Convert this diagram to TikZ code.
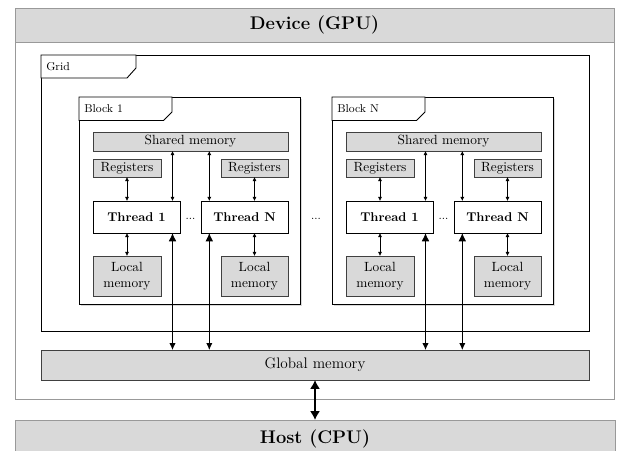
\documentclass[tikz,border=0pt]{standalone}
\usetikzlibrary{arrows.meta,shadows,calc}

% 1 unit = one pixel of the final drawing
\def\u{0.7874pt}
\tikzset{
  px/.style={x=\u,y=-\u},
  sz/.style 2 args={minimum width=#1*\u,minimum height=#2*\u},
  base/.style={inner sep=0pt,outer sep=0pt,anchor=north west,align=center},
  devframe/.style={base,draw=black!40,line width=0.7pt,fill=white},
  devhead/.style={base,draw=black!40,line width=0.7pt,fill=black!15},
  gridframe/.style={base,draw=black,line width=0.7pt,fill=white},
  blockframe/.style={base,draw=black,line width=0.6pt,fill=white,
    drop shadow={shadow xshift=1.3pt,shadow yshift=-1.3pt,opacity=0.15,fill=black}},
  tabline/.style={draw=black,line width=0.6pt,fill=white},
  tablabel/.style={anchor=west,inner sep=0pt,font=\small},
  cell/.style={base,draw=black!75,line width=0.5pt,fill=black!15,font=\fontsize{10.5}{12.6}\selectfont},
  thread/.style={base,draw=black,line width=0.5pt,fill=white,font=\normalsize\bfseries},
  gap/.style={inner sep=0pt,font=\small},
  link/.style={{Latex[length=3.3pt,width=3.3pt]}-{Latex[length=3.3pt,width=3.3pt]},line width=0.5pt},
  gmem/.style={{Latex[length=6.5pt,width=6pt]}-{Latex[length=5.5pt,width=5pt]},line width=0.7pt},
  hostlink/.style={{Latex[length=7pt,width=8pt]}-{Latex[length=7pt,width=8pt]},line width=1.5pt},
}

% one thread block: #1 name prefix, #2 horizontal offset, #3 title
\newcommand\gpublock[3]{%
  \begin{scope}[xshift=#2*\u]
    \node[blockframe,sz={221}{207}] (#1blk) at (79,97) {};
    \draw[tabline] (79,97) -- (172,97) -- (172,112) -- (163.5,120.5) -- (79,120.5) -- cycle;
    \node[tablabel] (#1lbl) at (84,109) {#3};
    \node[cell,sz={195}{19}] (#1shm) at (93,132) {Shared memory};
    \node[cell,sz={68}{18}] (#1regA) at (93,159) {Registers};
    \node[cell,sz={67}{18}] (#1regB) at (221,159) {Registers};
    \node[thread,sz={87}{32}] (#1thA) at (93,201) {Thread 1};
    \node[thread,sz={87}{32}] (#1thB) at (201,201) {Thread N};
    \node[cell,sz={68}{40}] (#1locA) at (93,256) {Local\\memory};
    \node[cell,sz={67}{40}] (#1locB) at (221,256) {Local\\memory};
    \node[gap] (#1dots) at (190.5,219) {...};
    \coordinate (#1pA) at ([xshift=-7.5*\u]#1thA.north east);
    \coordinate (#1pB) at ([xshift=8.3*\u]#1thB.north west);
    \coordinate (#1qA) at ([xshift=-7.5*\u]#1thA.south east);
    \coordinate (#1qB) at ([xshift=8.3*\u]#1thB.south west);
    \draw[link] (#1regA.south) -- (#1regA.south |- #1thA.north);
    \draw[link] (#1regB.south) -- (#1regB.south |- #1thB.north);
    \draw[link] (#1locA.north |- #1thA.south) -- (#1locA.north);
    \draw[link] (#1locB.north |- #1thB.south) -- (#1locB.north);
    \draw[link] (#1pA |- #1shm.south) -- (#1pA);
    \draw[link] (#1pB |- #1shm.south) -- (#1pB);
  \end{scope}%
}

\begin{document}
\begin{tikzpicture}[px]
  \useasboundingbox (0,0) rectangle (617,451);

  % device with its title band
  \node[devframe,sz={599}{391}] (dev) at (15,8) {};
  \node[devhead,sz={599}{34}] (devtitle) at (15,8) {\Large\bfseries Device (GPU)};

  % grid with its tab
  \node[gridframe,sz={548}{276}] (grid) at (41,55) {};
  \draw[tabline,line width=0.7pt] (41,55) -- (136,55) -- (136,68) -- (127,78) -- (41,78) -- cycle;
  \node[tablabel] (gridlbl) at (46,67) {Grid};

  % the two blocks
  \gpublock{b1}{0}{Block 1}
  \gpublock{bn}{253}{Block N}
  \node[gap] (blockdots) at (316,219) {...};

  % global memory and host
  \node[cell,sz={548}{30},font=\large] (glob) at (41,350) {Global memory};
  \node[devhead,sz={600}{38}] (host) at (15,420) {\Large\bfseries Host (CPU)};

  % threads to global memory
  \foreach \b in {b1,bn}{
    \draw[gmem] (\b qA) -- (\b qA |- glob.north);
    \draw[gmem] (\b qB) -- (\b qB |- glob.north);
  }

  % global memory to host
  \draw[hostlink] (glob.south) -- (host.north);
\end{tikzpicture}
\end{document}
